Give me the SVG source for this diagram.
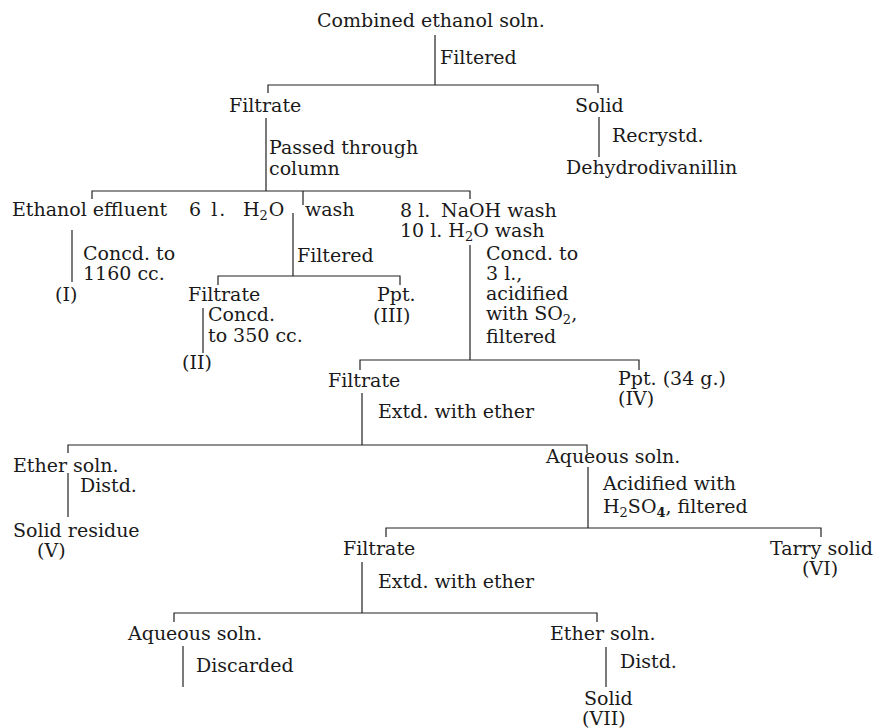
<svg xmlns="http://www.w3.org/2000/svg" width="880" height="728" viewBox="0 0 880 728">
<style>
text{font-family:"DejaVu Serif","Liberation Serif",serif;font-size:19px;fill:#1a1a1a}
.sub{font-size:13px}
#connectors path{stroke:#222;stroke-width:1.2;fill:none}
</style>
<rect width="880" height="728" fill="#fff"/>
<g id="connectors">
<path d="M435 35V85M268 93V85H598V93"/>
<path d="M599 117V157"/>
<path d="M266 118V191M92 199V191H470V199M303 191V205"/>
<path d="M72 230V282"/>
<path d="M293 213V276M218 285V276H400V285"/>
<path d="M203 308V353"/>
<path d="M470 245V360M360 370V360H639V370"/>
<path d="M362 393V445M68 453V445H587V453"/>
<path d="M68 473V517"/>
<path d="M588 467V528M386 537V528H821V537"/>
<path d="M362 562V613M174 622V613H597V622"/>
<path d="M183 646V687"/>
<path d="M606 647V687"/>
</g>
<g id="n-combined"><text x="317" y="27">Combined ethanol soln.</text></g>
<g id="l-filtered1"><text x="440" y="64">Filtered</text></g>
<g id="n-filtrate1"><text x="229" y="112">Filtrate</text></g>
<g id="n-solid1"><text x="575" y="112">Solid</text></g>
<g id="l-recrystd"><text x="612" y="142">Recrystd.</text></g>
<g id="n-dehydro"><text x="566" y="174">Dehydrodivanillin</text></g>
<g id="l-passed"><text x="269" y="154">Passed through</text><text x="269" y="175">column</text></g>
<g id="n-ethanol-effluent"><text x="12" y="216">Ethanol effluent</text></g>
<g id="l-concd1"><text x="83" y="260">Concd. to</text><text x="83" y="280">1160 cc.</text></g>
<g id="n-I"><text x="55" y="301">(I)</text></g>
<g id="n-h2o-wash"><text x="189" y="216" letter-spacing="2">6 l.</text><text x="243" y="216">H<tspan class="sub" dy="4">2</tspan><tspan dy="-4" dx="1">O</tspan></text><text x="305" y="216">wash</text></g>
<g id="l-filtered2"><text x="297" y="262">Filtered</text></g>
<g id="n-filtrate2"><text x="188" y="301">Filtrate</text></g>
<g id="l-concd2"><text x="208" y="321">Concd.</text><text x="208" y="342">to 350 cc.</text></g>
<g id="n-II"><text x="182" y="369">(II)</text></g>
<g id="n-ppt3"><text x="377" y="301">Ppt.</text><text x="373" y="322">(III)</text></g>
<g id="n-naoh-wash"><text x="400" y="217">8 l.</text><text x="441" y="217">NaOH wash</text><text x="400" y="237">10 l. H<tspan class="sub" dy="4">2</tspan><tspan dy="-4">O wash</tspan></text></g>
<g id="l-concd3"><text x="486" y="260">Concd. to</text><text x="486" y="280">3 l.,</text><text x="486" y="300">acidified</text><text x="486" y="320">with SO<tspan class="sub" dy="4">2</tspan><tspan dy="-4">,</tspan></text><text x="486" y="343">filtered</text></g>
<g id="n-filtrate3"><text x="328" y="387">Filtrate</text></g>
<g id="n-ppt4"><text x="618" y="385">Ppt. (34 g.)</text><text x="618" y="405">(IV)</text></g>
<g id="l-extd1"><text x="378" y="418">Extd. with ether</text></g>
<g id="n-ether1"><text x="13" y="472">Ether soln.</text></g>
<g id="l-distd1"><text x="80" y="492">Distd.</text></g>
<g id="n-residue"><text x="13" y="537">Solid residue</text><text x="37" y="557">(V)</text></g>
<g id="n-aqueous1"><text x="546" y="463">Aqueous soln.</text></g>
<g id="l-acidified"><text x="603" y="490">Acidified with</text><text x="603" y="513">H<tspan class="sub" dy="4">2</tspan><tspan dy="-4">SO</tspan><tspan class="sub" dy="4" font-weight="bold">4</tspan><tspan dy="-4">, filtered</tspan></text></g>
<g id="n-filtrate4"><text x="343" y="555">Filtrate</text></g>
<g id="n-tarry"><text x="770" y="555">Tarry solid</text><text x="802" y="575">(VI)</text></g>
<g id="l-extd2"><text x="378" y="588">Extd. with ether</text></g>
<g id="n-aqueous2"><text x="128" y="640">Aqueous soln.</text></g>
<g id="l-discarded"><text x="196" y="672">Discarded</text></g>
<g id="n-ether2"><text x="550" y="640">Ether soln.</text></g>
<g id="l-distd2"><text x="620" y="668">Distd.</text></g>
<g id="n-solid7"><text x="584" y="705">Solid</text><text x="582" y="725">(VII)</text></g>
</svg>
